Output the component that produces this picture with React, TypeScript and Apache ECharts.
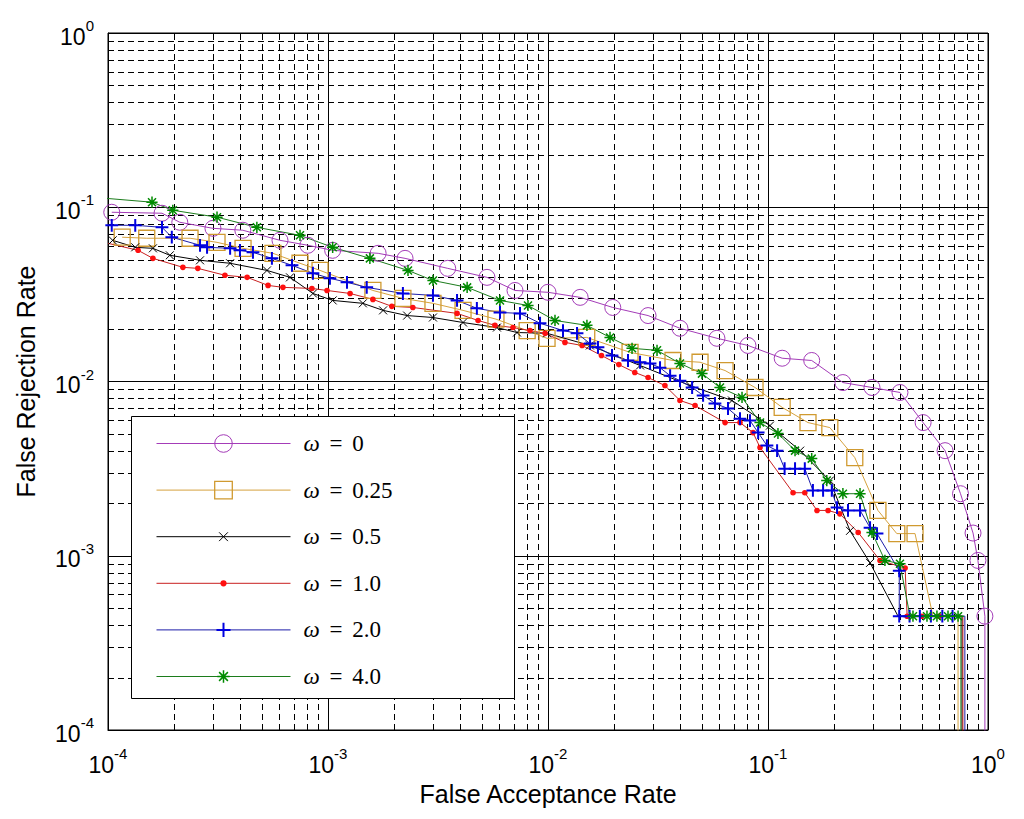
import React, { useEffect, useRef } from 'react';
import * as echarts from 'echarts';

// ---------------- data ----------------
const X_MIN = 1e-4;
const X_MAX = 1;
const Y_MIN = 1e-4;
const Y_MAX = 1;
const DECADES = [1e-4, 1e-3, 1e-2, 1e-1];
const MINOR_STEPS = [2, 3, 4, 5, 6, 7, 8, 9];
const OMEGA_LABELS = ['0', '0.25', '0.5', '1.0', '2.0', '4.0'];
const X_TITLE = 'False Acceptance Rate';
const Y_TITLE = 'False Rejection Rate';

// [FAR, FRR, marker?]  (third value 0 = vertex without marker)
const omega0: number[][] = [
  [1.04e-4, 0.0936], [1.76e-4, 0.0924], [2.12e-4, 0.082], [3.0e-4, 0.0757], [4.1e-4, 0.0738],
  [6.05e-4, 0.0646], [8.1e-4, 0.0605], [1.05e-3, 0.0566], [1.69e-3, 0.0544], [2.24e-3, 0.0509],
  [3.5e-3, 0.0446], [5.28e-3, 0.0396], [7.08e-3, 0.0333], [1.0e-2, 0.0325], [1.4e-2, 0.0304],
  [1.97e-2, 0.0266], [2.85e-2, 0.0239], [3.98e-2, 0.0202], [5.86e-2, 0.0177], [8.11e-2, 0.0161],
  [0.116, 0.0136], [0.158, 0.0132], [0.219, 0.00986], [0.297, 0.00924], [0.398, 0.00865],
  [0.507, 0.00581], [0.638, 0.00401], [0.75, 0.00227], [0.855, 0.00135], [0.9, 0.00094],
  [0.968, 0.00045], [0.968, 1e-6, 0],
];
const omega025: number[][] = [
  [1.16e-4, 0.0673], [1.5e-4, 0.0664], [2.36e-4, 0.0664], [3.13e-4, 0.0629], [4.11e-4, 0.0581],
  [5.62e-4, 0.0544], [7.46e-4, 0.0477], [9.2e-4, 0.0434], [1.6e-3, 0.0333], [2.19e-3, 0.03],
  [3.0e-3, 0.0281], [4.11e-3, 0.0256], [5.8e-3, 0.0228], [8.04e-3, 0.0196], [9.9e-3, 0.0177],
  [1.5e-2, 0.0179], [2.36e-2, 0.0147], [3.7e-2, 0.0132], [4.91e-2, 0.0129], [6.38e-2, 0.01156],
  [8.73e-2, 0.00924], [0.116, 0.0071], [0.152, 0.00581], [0.191, 0.00544], [0.248, 0.00366],
  [0.316, 0.00182], [0.385, 0.00134], [0.466, 0.00134], [0.562, 0.00045, 0], [0.731, 0.00045, 0],
  [0.731, 1e-6, 0],
];
const omega05: number[][] = [
  [1.05e-4, 0.0646], [1.33e-4, 0.0589], [1.6e-4, 0.0581], [1.91e-4, 0.053], [2.62e-4, 0.0496],
  [3.59e-4, 0.0477], [5.28e-4, 0.0434], [6.72e-4, 0.0396], [8.54e-4, 0.032], [1.05e-3, 0.0292],
  [1.44e-3, 0.0281], [1.78e-3, 0.0256], [2.29e-3, 0.0239], [3.0e-3, 0.0233], [4.11e-3, 0.0218],
  [5.86e-3, 0.0204], [7.23e-3, 0.0191], [9.9e-3, 0.0189], [1.55e-2, 0.0161], [2.62e-2, 0.01236],
  [4.42e-2, 0.00948], [6.86e-2, 0.00778], [0.102, 0.00558], [0.14, 0.00401], [0.191, 0.0027],
  [0.236, 0.00139], [0.291, 0.00091], [0.39, 0.00045, 0], [0.762, 0.00045, 0], [0.762, 1e-6, 0],
];
const omega1: number[][] = [
  [1.0e-4, 0.0621, 0], [1.37e-4, 0.0566], [1.6e-4, 0.0509], [2.19e-4, 0.0452], [2.56e-4, 0.0446],
  [3.4e-4, 0.0407], [4.29e-4, 0.0396], [5.34e-4, 0.0356], [6.24e-4, 0.0347], [8.45e-4, 0.0342],
  [9.9e-4, 0.0333], [1.26e-3, 0.032], [1.6e-3, 0.0296], [1.95e-3, 0.027], [2.43e-3, 0.0266],
  [3.86e-3, 0.0246], [4.81e-3, 0.0224], [5.74e-3, 0.021], [6.93e-3, 0.0204], [8.28e-3, 0.0196],
  [9.7e-3, 0.0189], [1.194e-2, 0.01676], [1.429e-2, 0.0161], [1.75e-2, 0.0141], [2.1e-2, 0.0125],
  [2.48e-2, 0.01127], [2.85e-2, 0.01054], [3.4e-2, 0.00948], [3.98e-2, 0.00778], [4.66e-2, 0.00728],
  [6.38e-2, 0.00581], [7.46e-2, 0.00581], [8.55e-2, 0.00509], [9.2e-2, 0.00418], [0.13, 0.0023],
  [0.147, 0.0023], [0.167, 0.00182], [0.1875, 0.00182], [0.212, 0.00174], [0.257, 0.00136],
  [0.323, 0.00094], [0.42, 0.00085], [0.429, 0.00045], [0.5, 0.00045], [0.6, 0.00045],
  [0.769, 0.00045, 0], [0.769, 1e-6, 0],
];
const omega2: number[][] = [
  [1.04e-4, 0.0788], [1.33e-4, 0.0788], [1.76e-4, 0.0767], [1.95e-4, 0.0673], [2.62e-4, 0.0605],
  [2.82e-4, 0.0589], [3.59e-4, 0.0581], [3.98e-4, 0.0566], [4.56e-4, 0.0551], [5.56e-4, 0.0509],
  [6.86e-4, 0.0464], [8.54e-4, 0.0418], [1.02e-3, 0.0391], [1.22e-3, 0.0371], [1.5e-3, 0.0347],
  [2.19e-3, 0.032], [3.0e-3, 0.0312], [3.86e-3, 0.0292], [4.75e-3, 0.0263], [6.05e-3, 0.0249],
  [7.46e-3, 0.0246], [9.2e-3, 0.0216], [1.17e-2, 0.0196], [1.355e-2, 0.0189], [1.553e-2, 0.0165],
  [1.687e-2, 0.0157], [1.954e-2, 0.0141], [2.31e-2, 0.0132], [2.62e-2, 0.0129], [2.91e-2, 0.0127],
  [3.23e-2, 0.012], [3.59e-2, 0.0108], [3.98e-2, 0.0101], [4.52e-2, 0.00924], [5.07e-2, 0.00832],
  [5.74e-2, 0.00748], [6.58e-2, 0.007], [7.46e-2, 0.00612], [8.28e-2, 0.00597], [9.02e-2, 0.00509],
  [9.89e-2, 0.00429], [0.11, 0.00401], [0.119, 0.00316], [0.1327, 0.00316], [0.147, 0.00316],
  [0.16, 0.00237], [0.178, 0.00237], [0.195, 0.00237], [0.206, 0.00189], [0.231, 0.00182],
  [0.262, 0.00182], [0.291, 0.00145], [0.313, 0.00134], [0.395, 0.00082], [0.395, 0.00045],
  [0.44, 0.00045], [0.49, 0.00045], [0.55, 0.00045], [0.62, 0.00045], [0.69, 0.00045],
  [0.785, 0.00045, 0], [0.785, 1e-6, 0],
];
const omega4: number[][] = [
  [9.0e-5, 0.1135, 0], [1.585e-4, 0.1069], [1.97e-4, 0.0961], [3.13e-4, 0.0877], [4.75e-4, 0.0767],
  [7.46e-4, 0.069], [1.05e-3, 0.0589], [1.55e-3, 0.0509], [2.31e-3, 0.0434], [3.0e-3, 0.038],
  [4.29e-3, 0.0347], [6.05e-3, 0.0292], [8.11e-3, 0.0273], [1.076e-2, 0.0224], [1.503e-2, 0.021],
  [1.914e-2, 0.0179], [2.41e-2, 0.0155], [3.13e-2, 0.0151], [3.98e-2, 0.0127], [5.01e-2, 0.0111],
  [6.05e-2, 0.00924], [7.62e-2, 0.0081], [9.2e-2, 0.00581], [0.111, 0.00503], [0.1327, 0.00401],
  [0.158, 0.00361], [0.185, 0.0027], [0.219, 0.00227], [0.262, 0.00227], [0.297, 0.00136],
  [0.34, 0.00094], [0.398, 0.0009], [0.442, 0.00045, 0], [0.456, 0.00045], [0.528, 0.00045],
  [0.586, 0.00045], [0.658, 0.00045], [0.731, 0.00045], [0.753, 0.00045, 0], [0.753, 1e-6, 0],
];
const SERIES_DATA = [omega0, omega025, omega05, omega1, omega2, omega4];

// ---------------- styles ----------------
const FONT_SANS = "'Liberation Sans', Arial, sans-serif";
const FONT_SERIF = "'Liberation Serif', 'DejaVu Serif', serif";

// symbols drawn inside a common 20x20 box so that relative sizes are kept
const SYM_CIRCLE = 'path://M0 10A10 10 0 1 1 20 10A10 10 0 1 1 0 10Z';
const SYM_SQUARE = 'path://M0 0L20 0L20 20L0 20Z';
const SYM_X = 'path://M0 0M20 20M5 5L15 15M15 5L5 15';
const SYM_DOT = 'path://M0 0M20 20M6.5 10A3.5 3.5 0 1 1 13.5 10A3.5 3.5 0 1 1 6.5 10Z';
const SYM_PLUS = 'path://M0 0M20 20M10 2L10 18M2 10L18 10';
const SYM_STAR = 'path://M0 0M20 20M10 3L10 17M3 10L17 10M5 5L15 15M15 5L5 15';

const STYLES = [
  { line: '#a43cb8', mark: '#a43cb8', symbol: SYM_CIRCLE, fill: false, bw: 1 },
  { line: '#d6a23e', mark: '#d09a30', symbol: SYM_SQUARE, fill: false, bw: 1.3 },
  { line: '#000000', mark: '#000000', symbol: SYM_X, fill: false, bw: 1 },
  { line: '#c82020', mark: '#ff1010', symbol: SYM_DOT, fill: true, bw: 0 },
  { line: '#1c1ca8', mark: '#0000e0', symbol: SYM_PLUS, fill: false, bw: 2 },
  { line: '#1c7c1c', mark: '#008a00', symbol: SYM_STAR, fill: false, bw: 1.5 },
];

const seriesName = (lbl: string) => `ω = ${lbl}`;

function buildOption() {
  const minorValues: number[] = [];
  DECADES.forEach((d) => MINOR_STEPS.forEach((m) => minorValues.push(m * d)));

  const gridLine = (vertical: boolean) => ({
    type: 'custom',
    silent: true,
    z: 1,
    clip: false,
    data: minorValues.map((v) => (vertical ? [v, 1e-2] : [1e-2, v])),
    encode: { x: 0, y: 1 },
    renderItem: (_p: any, api: any) => {
      const v = api.value(vertical ? 0 : 1);
      const a = vertical ? api.coord([v, Y_MIN]) : api.coord([X_MIN, v]);
      const b = vertical ? api.coord([v, Y_MAX]) : api.coord([X_MAX, v]);
      const snap = (n: number) => Math.round(n) + 0.5;
      return {
        type: 'line',
        shape: vertical
          ? { x1: snap(a[0]), y1: a[1], x2: snap(b[0]), y2: b[1] }
          : { x1: a[0], y1: snap(a[1]), x2: b[0], y2: snap(b[1]) },
        style: { stroke: '#000', lineWidth: 1, lineDash: [6, 4] },
      };
    },
  });

  const lineSeries = SERIES_DATA.map((arr, i) => {
    const s = STYLES[i];
    return {
      type: 'line',
      name: seriesName(OMEGA_LABELS[i]),
      z: 3,
      symbol: s.symbol,
      symbolSize: 16,
      symbolKeepAspect: true,
      clip: true,
      lineStyle: { color: s.line, width: 1 },
      itemStyle: s.fill
        ? { color: s.mark, borderWidth: 0 }
        : { color: 'none', borderColor: s.mark, borderWidth: s.bw },
      emphasis: { disabled: true },
      data: arr.map((p) => (p[2] === 0 ? { value: [p[0], p[1]], symbol: 'none' } : [p[0], p[1]])),
    };
  });

  const labelRich = {
    b: { fontSize: 23, fontFamily: FONT_SANS, color: '#000', lineHeight: 30, verticalAlign: 'bottom' },
    s: { fontSize: 15, fontFamily: FONT_SANS, color: '#000', lineHeight: 4, verticalAlign: 'top' },
  };
  const labelFormatter = (v: number) => `{b|10}{s|${Math.round(Math.log10(v))}}`;

  const axisCommon = {
    type: 'log',
    logBase: 10,
    axisLine: { show: true, lineStyle: { color: '#000', width: 1 } },
    axisTick: { show: true, inside: true, length: 8, lineStyle: { color: '#000', width: 1 } },
    splitLine: { show: true, lineStyle: { color: '#000', width: 1, type: 'solid' } },
    minorTick: { show: false },
    nameLocation: 'middle',
    nameTextStyle: { fontSize: 25, fontFamily: FONT_SANS, color: '#000' },
  };

  return {
    animation: false,
    backgroundColor: '#fff',
    grid: {
      left: 108, right: 36, top: 33, bottom: 89,
      show: true, borderColor: '#000', borderWidth: 1, backgroundColor: '#fff',
    },
    xAxis: {
      ...axisCommon,
      min: X_MIN, max: X_MAX,
      name: X_TITLE, nameGap: 51,
      axisLabel: { formatter: labelFormatter, rich: labelRich, margin: 16, color: '#000' },
    },
    yAxis: {
      ...axisCommon,
      min: Y_MIN, max: Y_MAX,
      name: Y_TITLE, nameGap: 70,
      axisLabel: { formatter: labelFormatter, rich: labelRich, margin: 14, color: '#000' },
    },
    graphic: {
      elements: [
        {
          type: 'rect', z: 20, silent: true,
          shape: { x: 131.5, y: 416.5, width: 383, height: 282 },
          style: { fill: '#fff', stroke: '#000', lineWidth: 1 },
        },
      ],
    },
    legend: {
      show: true, orient: 'vertical', left: 131, top: 416, z: 21,
      padding: [16, 0, 16, 25], itemWidth: 134, itemHeight: 22, itemGap: 23.6,
      selectedMode: false,
      formatter: (name: string) => `{w|ω} {e|=} {v|${name.split('= ')[1]}}`,
      textStyle: {
        color: '#000', fontFamily: FONT_SERIF, fontSize: 23,
        rich: {
          w: { fontFamily: FONT_SERIF, fontStyle: 'italic', fontSize: 23, color: '#000', padding: [0, 0, 0, 8] },
          e: { fontFamily: FONT_SERIF, fontSize: 23, color: '#000', padding: [0, 4, 0, 4] },
          v: { fontFamily: FONT_SERIF, fontSize: 23, color: '#000' },
        },
      },
      data: OMEGA_LABELS.map((lbl, i) => {
        const s = STYLES[i];
        return {
          name: seriesName(lbl),
          itemStyle: s.fill
            ? { color: s.mark, borderWidth: 0 }
            : { color: 'none', borderColor: s.mark, borderWidth: s.bw },
          lineStyle: { color: s.line, width: 1 },
        };
      }),
    },
    series: [gridLine(true), gridLine(false), ...lineSeries],
  };
}

export default function App() {
  const ref = useRef<HTMLDivElement>(null);
  useEffect(() => {
    if (!ref.current) return;
    const chart = echarts.init(ref.current, undefined, { renderer: 'svg' });
    chart.setOption(buildOption() as any);
    return () => chart.dispose();
  }, []);
  return (
    <div
      ref={ref}
      style={{ position: 'fixed', left: 0, top: 0, width: 1024, height: 819, background: '#fff' }}
    />
  );
}
